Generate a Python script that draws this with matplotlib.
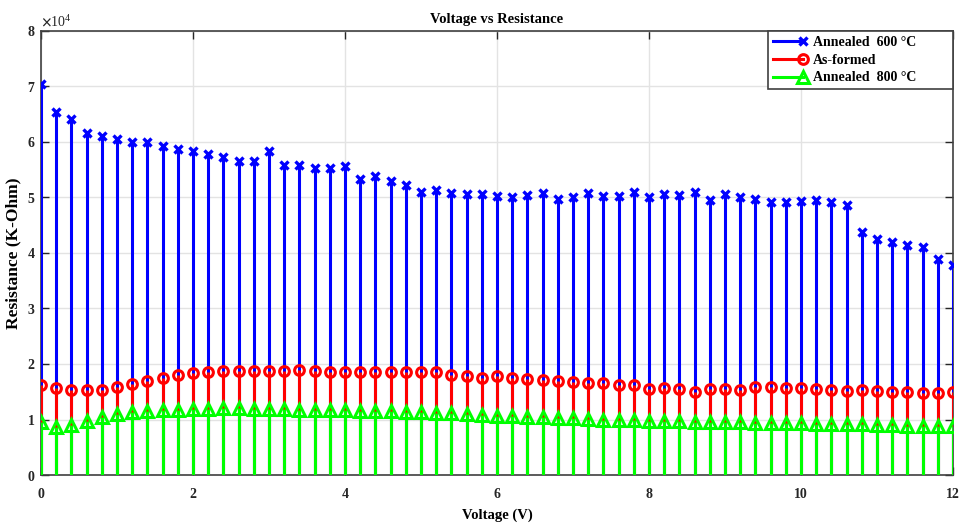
import matplotlib
matplotlib.use("Agg")
import matplotlib.pyplot as plt
import numpy as np
from matplotlib.lines import Line2D
from matplotlib.legend_handler import HandlerLine2D

# =========================
# DATA (x1e4 Ohm)
# =========================

voltage = [round(0.2 * i, 1) for i in range(61)]

annealed_600 = [
    7.05, 6.54, 6.41, 6.16, 6.10, 6.06, 5.99, 5.99, 5.92, 5.88,
    5.83, 5.79, 5.72, 5.65, 5.65, 5.83, 5.59, 5.59, 5.53, 5.53,
    5.57, 5.33, 5.38, 5.29, 5.22, 5.10, 5.14, 5.08, 5.06, 5.06,
    5.03, 5.00, 5.05, 5.08, 4.98, 5.00, 5.08, 5.03, 5.03, 5.09,
    5.00, 5.06, 5.05, 5.09, 4.95, 5.06, 5.00, 4.97, 4.91, 4.91,
    4.93, 4.95, 4.91, 4.86, 4.37, 4.25, 4.19, 4.14, 4.10, 3.89,
    3.79,
]

as_formed = [
    1.63, 1.56, 1.53, 1.53, 1.53, 1.59, 1.64, 1.69, 1.74, 1.80,
    1.83, 1.85, 1.87, 1.88, 1.88, 1.88, 1.88, 1.90, 1.88, 1.86,
    1.86, 1.85, 1.85, 1.85, 1.85, 1.85, 1.85, 1.81, 1.79, 1.75,
    1.78, 1.75, 1.73, 1.71, 1.70, 1.68, 1.65, 1.66, 1.62, 1.62,
    1.55, 1.57, 1.55, 1.49, 1.55, 1.55, 1.53, 1.58, 1.58, 1.56,
    1.56, 1.55, 1.54, 1.51, 1.53, 1.52, 1.49, 1.50, 1.48, 1.48,
    1.50,
]

annealed_800 = [
    0.95, 0.87, 0.90, 0.98, 1.05, 1.10, 1.13, 1.16, 1.17, 1.18,
    1.19, 1.19, 1.20, 1.20, 1.19, 1.19, 1.19, 1.18, 1.18, 1.17,
    1.17, 1.16, 1.15, 1.15, 1.14, 1.13, 1.12, 1.11, 1.10, 1.09,
    1.07, 1.06, 1.05, 1.04, 1.03, 1.02, 1.01, 1.00, 1.00, 0.99,
    0.98, 0.98, 0.97, 0.96, 0.96, 0.95, 0.95, 0.94, 0.94, 0.93,
    0.93, 0.92, 0.92, 0.91, 0.91, 0.90, 0.90, 0.89, 0.89, 0.88,
    0.88,
]

labels = ["Annealed  600 °C", "As-formed", "Annealed  800 °C"]

plt.rcParams["font.family"] = ["Liberation Serif", "DejaVu Serif"]
plt.rcParams["font.weight"] = "bold"
plt.rcParams["mathtext.fontset"] = "stix"


class EndMarker(HandlerLine2D):
    # marker at the right end of the legend line, MATLAB style
    def create_artists(self, legend, orig_handle, xdescent, ydescent,
                       width, height, fontsize, trans):
        arts = super().create_artists(legend, orig_handle, xdescent, ydescent,
                                      width, height, fontsize, trans)
        line = arts[0]
        n = len(line.get_xdata())
        line.set_markevery([n - 1])
        return arts


fig = plt.figure(figsize=(9.59, 5.25), dpi=100)
ax = fig.add_axes([0.0428, 0.0952, 0.951, 0.846])

series = [
    (np.array(annealed_600) * 1e4, "#0000ff", "x", 5.5, "#0000ff", 2.4),
    (np.array(as_formed) * 1e4, "#ff0000", "o", 7, "none", 2.2),
    (np.array(annealed_800) * 1e4, "#00ff00", "^", 8, "none", 2.2),
]

handles = []
for (vals, color, mk, ms, fc, mew), lab in zip(series, labels):
    ax.vlines(voltage, 0, vals, colors=color, linewidth=2.2, zorder=3)
    ax.plot(voltage, vals, linestyle="none", marker=mk, markersize=ms,
            markeredgecolor=color, markerfacecolor=fc,
            markeredgewidth=mew, zorder=4)
    handles.append(Line2D([], [], color=color, linewidth=2.2, marker=mk,
                          markersize=ms, markeredgecolor=color,
                          markerfacecolor=fc, markeredgewidth=mew))

ax.set_xlim(0, 12)
ax.set_ylim(0, 8e4)
ax.set_xticks(range(0, 13, 2))
ax.set_yticks(np.arange(0, 8.1e4, 1e4))
ax.ticklabel_format(axis="y", style="sci", scilimits=(0, 0), useMathText=True)
ax.yaxis.get_offset_text().set_fontsize(10)
ax.yaxis.get_offset_text().set_fontweight("normal")

ax.grid(True, color="#e3e3e3", linewidth=1.0, zorder=0)
ax.set_axisbelow(True)
ax.tick_params(direction="in", length=6, width=1, top=True, right=True,
               labelsize=10, colors="#262626")
ax.tick_params(axis="x", pad=9)
ax.tick_params(axis="y", pad=4)
for s in ax.spines.values():
    s.set_color("#404040")
    s.set_linewidth(1.2)

ax.set_title("Voltage vs Resistance", fontsize=10.5, fontweight="bold", pad=6)
ax.set_xlabel("Voltage (V)", fontsize=10.5, fontweight="bold", labelpad=6)
ax.set_ylabel("Resistance (K-Ohm)", fontsize=12.5, fontweight="bold", labelpad=4)

leg = ax.legend(handles, labels, loc="upper left",
                bbox_to_anchor=(0.797, 0.0, 0.203, 1.0), mode="expand",
                borderaxespad=0, fancybox=False, framealpha=1,
                edgecolor="#404040", prop={"size": 10, "weight": "bold"},
                numpoints=1, handlelength=2.2, handletextpad=0.7,
                labelspacing=0.35, borderpad=0.35,
                handler_map={Line2D: EndMarker()})
leg.get_frame().set_linewidth(1.2)

fig.savefig("out.png", dpi=100)
